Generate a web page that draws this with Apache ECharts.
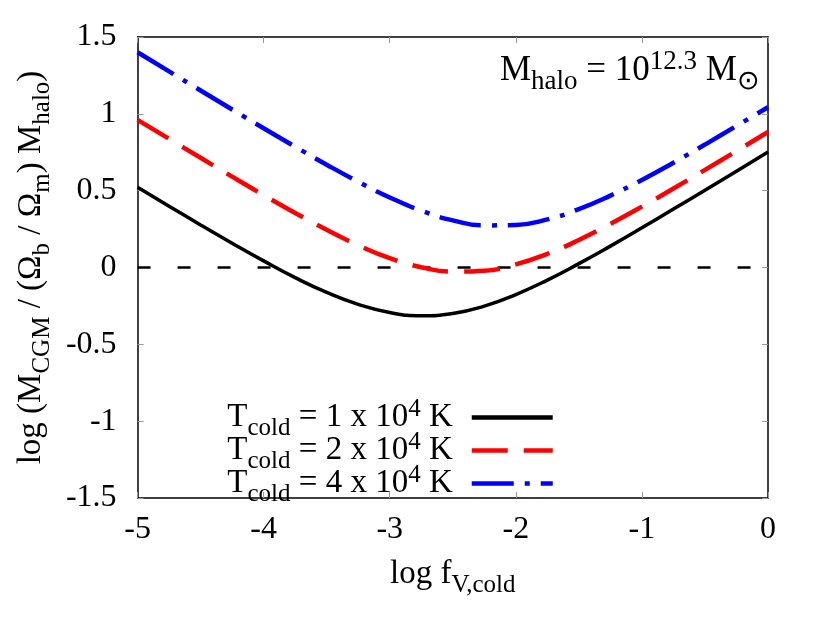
<!DOCTYPE html>
<html>
<head>
<meta charset="UTF-8" />
<title>CGM mass vs cold volume fraction</title>
<script src="https://cdn.jsdelivr.net/npm/echarts@6/dist/echarts.min.js"></script>
<style>
  html, body { margin: 0; padding: 0; background: #fff; }
  #chart { width: 825px; height: 630px; }
</style>
</head>
<body>
<div id="chart"></div>
<script>
// log f_V,cold sample points
const logF = [-5, -4.75, -4.5, -4.25, -4, -3.75, -3.5, -3.25, -3, -2.75, -2.5,
  -2.25, -2, -1.75, -1.5, -1.25, -1, -0.75, -0.5, -0.25, 0];

// log (M_CGM / (Ωb/Ωm) M_halo)
const t1e4 = [0.522, 0.399, 0.277, 0.158, 0.043, -0.066, -0.162, -0.240, -0.293, -0.314, -0.299,
  -0.251, -0.176, -0.082, 0.025, 0.139, 0.258, 0.380, 0.503, 0.626, 0.751];
const t2e4 = [0.961, 0.837, 0.714, 0.591, 0.471, 0.355, 0.245, 0.145, 0.061, 0.002, -0.027,
  -0.021, 0.020, 0.089, 0.179, 0.284, 0.396, 0.514, 0.635, 0.758, 0.882];
const t4e4 = [1.401, 1.276, 1.152, 1.028, 0.906, 0.786, 0.669, 0.558, 0.456, 0.370, 0.307,
  0.274, 0.277, 0.313, 0.380, 0.468, 0.570, 0.682, 0.800, 0.921, 1.043];

const seriesNames = [
  '{n|T}{s|cold}{n| = 1 x 10}{p|4}{n| K}',
  '{n|T}{s|cold}{n| = 2 x 10}{p|4}{n| K}',
  '{n|T}{s|cold}{n| = 4 x 10}{p|4}{n| K}'
];
const yTicks = ['-1.5', '-1', '-0.5', '0', '0.5', '1', '1.5'];

const FONT = 'Liberation Serif';
const rich = {
  n: { fontFamily: FONT, fontSize: 33, color: '#000', lineHeight: 31 },
  s: { fontFamily: FONT, fontSize: 25, color: '#000', lineHeight: 31, padding: [22, 0, 0, 0] },
  p: { fontFamily: FONT, fontSize: 25, color: '#000', lineHeight: 31, padding: [0, 0, 16, 0] }
};
const richBig = {
  n: { fontFamily: FONT, fontSize: 35, color: '#000' },
  s: { fontFamily: FONT, fontSize: 27, color: '#000', padding: [23, 0, 0, 0] },
  p: { fontFamily: FONT, fontSize: 27, color: '#000', padding: [0, 0, 18, 0] }
};

const pairs = ys => logF.map((x, i) => [x, ys[i]]);

const chart = echarts.init(document.getElementById('chart'));

const tickStyle = { show: true, inside: true, length: 6, lineStyle: { color: '#999', width: 1 } };
const axisLine = { show: true, onZero: false, lineStyle: { color: '#000', width: 1.5 } };

chart.setOption({
  animation: false,
  backgroundColor: '#fff',
  grid: { left: 134, right: 57, top: 37, bottom: 132 },
  xAxis: [{
    type: 'value', min: -5, max: 0, interval: 1,
    axisLine: axisLine, axisTick: tickStyle, splitLine: { show: false },
    axisLabel: { fontFamily: FONT, fontSize: 32, color: '#000', margin: 16 },
    name: '{n|log f}{s|V,cold}',
    nameLocation: 'middle', nameGap: 50,
    nameTextStyle: { rich: rich }
  }, {
    type: 'value', position: 'top', min: -5, max: 0, interval: 1,
    axisLine: axisLine, axisTick: tickStyle, axisLabel: { show: false }, splitLine: { show: false }
  }],
  yAxis: [{
    type: 'value', min: -1.5, max: 1.5, interval: 0.5,
    axisLine: axisLine, axisTick: tickStyle, splitLine: { show: false },
    axisLabel: {
      fontFamily: FONT, fontSize: 32, color: '#000', margin: 21,
      formatter: v => yTicks[Math.round((v + 1.5) / 0.5)]
    },
    name: '{n|log (M}{s|CGM}{n| / (Ω}{s|b}{n| / Ω}{s|m}{n|) M}{s|halo}{n|)}',
    nameLocation: 'middle', nameGap: 90, nameRotate: 90,
    nameTextStyle: { rich: rich }
  }, {
    type: 'value', position: 'right', min: -1.5, max: 1.5, interval: 0.5,
    axisLine: axisLine, axisTick: tickStyle, axisLabel: { show: false }, splitLine: { show: false }
  }],
  legend: {
    data: seriesNames,
    orient: 'vertical', align: 'right',
    right: 265, top: 389,
    itemWidth: 81, itemHeight: 14, itemGap: -14,
    selectedMode: false,
    itemStyle: { color: 'transparent', borderWidth: 0, opacity: 0 },
    lineStyle: { width: 4.5 },
    textStyle: { rich: rich, padding: [0, 14, 0, 0] }
  },
  graphic: [{
    type: 'text', left: 500, top: 48, silent: true,
    style: {
      text: '{n|M}{s|halo}{n| = 10}{p|12.3}{n| M}{s|⊙}',
      rich: richBig
    }
  }],
  series: [{
    name: 'zero', type: 'line', data: [[-5, 0], [0, 0]],
    symbol: 'none', silent: true,
    lineStyle: { color: '#000', width: 2.5, type: [13, 27] }
  }, {
    name: seriesNames[0], type: 'line', data: pairs(t1e4), smooth: true,
    symbol: 'none', color: '#000',
    lineStyle: { color: '#000', width: 3.5 }
  }, {
    name: seriesNames[1], type: 'line', data: pairs(t2e4), smooth: true,
    symbol: 'none', color: '#f00',
    lineStyle: { color: '#f00', width: 4.5, type: [36, 16] }
  }, {
    name: seriesNames[2], type: 'line', data: pairs(t4e4), smooth: true,
    symbol: 'none', color: '#00f',
    lineStyle: { color: '#00f', width: 4.5, type: [42, 11, 5, 11] }
  }]
});
</script>
</body>
</html>
